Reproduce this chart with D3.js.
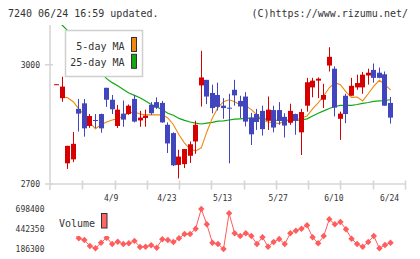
<!DOCTYPE html>
<html><head><meta charset="utf-8">
<script src="https://cdn.jsdelivr.net/npm/d3@7"></script>
<style>body{margin:0;background:#fff}svg{display:block}text{font-family:"DejaVu Sans Mono",monospace;fill:#333}</style>
</head><body>
<svg id="c" width="420" height="259"></svg>
<script>
const dates = ["3/26","3/27","3/28","3/29","4/1","4/2","4/3","4/4","4/5","4/8",
 "4/9","4/10","4/11","4/12","4/15","4/16","4/17","4/18","4/19","4/22",
 "4/23","4/24","4/25","4/26","4/30","5/1","5/2","5/7","5/8","5/9",
 "5/13","5/14","5/15","5/16","5/17","5/20","5/21","5/22","5/23","5/24",
 "5/27","5/28","5/29","5/30","5/31","6/3","6/4","6/5","6/6","6/7",
 "6/10","6/11","6/12","6/13","6/14","6/17","6/18","6/19","6/20","6/21","6/24"];
const open = [2950,2916,2752,2762,2889,2903,2846,2861,2876,2942,2912,2846,2877,2876,2914,2860,2866,2899,2906,2904,
 2849,2828,2748,2750,2771,2807,2948,2962,2929,2924,2897,2892,2937,2909,2920,2867,2876,2884,2859,2886,
 2886,2869,2854,2876,2830,2897,2943,2960,2912,2998,2990,2864,2922,2922,2943,2943,2973,2987,2980,2976,2904];
const high = [2951,2970,2796,2831,2914,2914,2876,2876,2877,2942,2924,2899,2910,2900,2924,2884,2887,2906,2918,2909,
 2855,2830,2786,2788,2807,2859,3035,2962,2950,2955,2916,2927,2962,2922,2931,2879,2889,2897,2920,2897,
 2906,2878,2902,2877,2889,2967,2967,2968,2952,3044,2996,2882,2927,2967,2975,2982,2990,3003,2993,2983,2919];
const low = [2950,2907,2738,2755,2832,2819,2841,2841,2829,2894,2876,2841,2844,2874,2855,2844,2844,2874,2889,2854,
 2778,2745,2714,2740,2753,2776,2895,2901,2878,2885,2864,2752,2897,2866,2845,2798,2836,2822,2836,2830,
 2849,2817,2849,2824,2773,2882,2918,2916,2891,2983,2870,2811,2853,2922,2937,2927,2950,2955,2966,2897,2852];
const close = [2951,2945,2796,2801,2877,2840,2871,2860,2840,2912,2888,2887,2862,2897,2857,2867,2872,2878,2892,2855,
 2802,2747,2769,2788,2800,2849,2968,2920,2891,2894,2891,2891,2923,2895,2857,2825,2856,2838,2887,2842,
 2859,2847,2884,2859,2881,2956,2960,2965,2924,3020,2892,2877,2876,2947,2954,2975,2980,2967,2967,2897,2867];
const ma5 = [null,2919,2917,2907,2889,2874,2854,2839,2849,2856,2861,2864,2871,2879,2881,2876,2874,2874,2874,2874,
 2866,2849,2824,2803,2788,2783,2791,2831,2866,2892,2907,2912,2907,2899,2897,2887,2874,2861,2856,2854,
 2852,2859,2861,2861,2866,2871,2889,2904,2922,2942,2955,2950,2932,2918,2919,2909,2927,2946,2961,2950,2937];
const ma25 = [3116,3100,3086,3068,3050,3033,3015,2997,2980,2965,2955,2947,2938,2929,2923,2917,2909,2900,2894,2887,
 2878,2873,2865,2860,2856,2853,2851,2853,2855,2858,2859,2861,2863,2864,2865,2866,2865,2864,2863,2861,
 2860,2860,2860,2860,2861,2864,2871,2878,2884,2890,2895,2898,2898,2898,2900,2903,2905,2908,2909,2910,2912];
const volume = [493560,391140,455150,391140,323287,301522,224707,195000,266956,330968,250312,279758,250312,259274,290000,211905,215746,233669,202943,310484,
 301522,275917,323287,378337,378337,446191,698400,502522,266956,250312,186300,643349,387299,352732,387299,352732,250312,336089,215746,275917,
 314325,250312,387299,420586,446191,489719,336089,259274,352732,566534,502522,531967,438509,318166,250312,215746,275917,352732,195262,237510,266956];
const priceTicks = [2700, 3000];
const volTicks = [186300, 442350, 698400];
const tickIdx = [10, 20, 30, 40, 50, 60];
const tickLabels = tickIdx.map(i => dates[i]);
const legendItems = ["5-day MA", "25-day MA"];
const legendColors = ["#f0870e", "#12a812"];

const svg = d3.select("#c");
const L = 50, R = 405, T = 25, B = 184;
const x = d3.scaleLinear().domain([-1.17, 62.6]).range([L, R]);
const y = d3.scaleLinear().domain([2700, 3100]).range([B, T]);
const yv = d3.scaleLinear().domain([186300, 698400]).range([249, 209]);
const grid = d3.scaleLinear().domain([0, 11]).range([L, R]);
const axisCol = "#d6d6d6";

// header
svg.append("text").attr("x", 8).attr("y", 16.5).attr("font-size", 10).text("7240 06/24 16:59 updated.");
svg.append("text").attr("x", 408).attr("y", 16.5).attr("font-size", 10).attr("text-anchor", "end").text("(C)https://www.rizumu.net/");

// axes
svg.append("line").attr("x1", L).attr("x2", L).attr("y1", T).attr("y2", 190).attr("stroke", axisCol).attr("stroke-width", 1.6);
svg.append("line").attr("x1", L).attr("x2", R).attr("y1", B).attr("y2", B).attr("stroke", axisCol).attr("stroke-width", 1.6);
svg.append("g").selectAll("line").data(d3.range(1, 12)).join("line")
  .attr("x1", d => Math.round(grid(d)) + 0.5).attr("x2", d => Math.round(grid(d)) + 0.5)
  .attr("y1", 180.5).attr("y2", 189.5).attr("stroke", axisCol).attr("stroke-width", 1.6);
svg.append("g").selectAll("line").data(priceTicks).join("line")
  .attr("x1", 45).attr("x2", 53).attr("y1", d => y(d)).attr("y2", d => y(d))
  .attr("stroke", axisCol).attr("stroke-width", 1.6);
svg.append("g").selectAll("text").data(priceTicks).join("text")
  .attr("x", 40).attr("y", d => y(d) + 2.8).attr("font-size", 8).attr("text-anchor", "end").text(d => d);
svg.append("g").selectAll("text").data(tickIdx).join("text")
  .attr("x", d => x(d) - 1).attr("y", 201).attr("font-size", 8).attr("text-anchor", "middle")
  .text((d, i) => tickLabels[i]);

// clip
svg.append("clipPath").attr("id", "pc").append("rect").attr("x", L).attr("y", T).attr("width", R - L).attr("height", B - T);
const plot = svg.append("g").attr("clip-path", "url(#pc)");

// MA lines
const idx = d3.range(dates.length);
const mkLine = arr => d3.line().defined(i => arr[i] != null).x(i => x(i)).y(i => y(arr[i]));
plot.append("path").attr("d", mkLine(ma25)(idx)).attr("fill", "none").attr("stroke", legendColors[1]).attr("stroke-width", 1.2);
plot.append("path").attr("d", mkLine(ma5)(idx)).attr("fill", "none").attr("stroke", legendColors[0]).attr("stroke-width", 1.1);

// candles
const red = "#d60000", blue = "#4146bf";
const cg = plot.append("g");
idx.forEach(i => {
  const up = close[i] >= open[i];
  const col = up ? red : blue;
  const bx = Math.round(x(i) - 2.5);
  cg.append("line").attr("x1", bx + 2.5).attr("x2", bx + 2.5).attr("y1", y(high[i])).attr("y2", y(low[i]))
    .attr("stroke", col).attr("stroke-width", 1);
  const top = y(Math.max(open[i], close[i])), bot = y(Math.min(open[i], close[i]));
  cg.append("rect").attr("x", bx).attr("width", 5).attr("y", top).attr("height", Math.max(1, bot - top)).attr("fill", col);
});

// legend
const lg = svg.append("g");
lg.append("rect").attr("x", 65.5).attr("y", 30.5).attr("width", 77).attr("height", 46).attr("fill", "#fff").attr("stroke", "#cfcfcf").attr("stroke-width", 1.5);
legendItems.forEach((t, k) => {
  lg.append("text").attr("x", 124.5).attr("y", 50 + k * 16.3).attr("font-size", 10).attr("text-anchor", "end").text(t);
  lg.append("rect").attr("x", 131.5).attr("y", 37.5 + k * 16.8).attr("width", 5).attr("height", 14).attr("fill", legendColors[k]).attr("stroke", "#333").attr("stroke-width", 1);
});

// volume
const vcol = "#ff5c5c";
const vg = svg.append("g");
vg.append("path").attr("d", d3.line().x(i => x(i)).y(i => yv(volume[i]))(idx)).attr("fill", "none").attr("stroke", vcol).attr("stroke-width", 1);
vg.selectAll("path.d").data(idx).join("path").attr("class", "d")
  .attr("d", i => { const cx = x(i), cy = yv(volume[i]), r = 3.2; return `M${cx},${cy - r}L${cx + r},${cy}L${cx},${cy + r}L${cx - r},${cy}Z`; })
  .attr("fill", vcol);
svg.append("rect").attr("x", 52).attr("y", 203).attr("width", 60).attr("height", 33).attr("fill", "#fff");
svg.append("text").attr("x", 59).attr("y", 226.5).attr("font-size", 10).text("Volume");
svg.append("rect").attr("x", 101.5).attr("y", 213.5).attr("width", 5.5).attr("height", 14.5).attr("fill", "#ff6666").attr("stroke", "#333").attr("stroke-width", 1);
svg.append("g").selectAll("text").data(volTicks).join("text")
  .attr("x", 44.5).attr("y", d => yv(d) + 2.8).attr("font-size", 8).attr("text-anchor", "end").text(d => d);
</script>
</body></html>
